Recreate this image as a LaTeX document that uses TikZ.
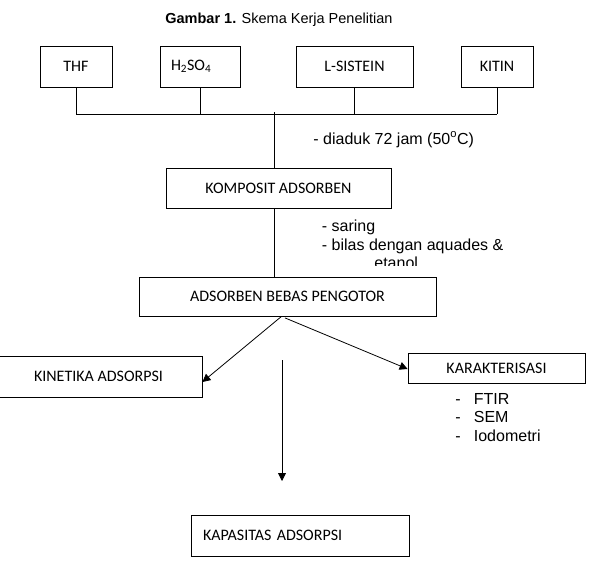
\documentclass[tikz,border=0pt]{standalone}
\usepackage{fontspec}
\setmainfont{Liberation Sans}
\newfontfamily\boxfont{Carlito}
\usetikzlibrary{arrows.meta, calc}
\tikzset{
    my-box/.style={
        draw, rectangle, line width=.8pt, inner sep=0pt,
        font=\boxfont\fontsize{16}{19}\selectfont
    },
    my-note/.style={
        anchor=base west, inner sep=0pt, font=\fontsize{16}{18}\selectfont
    },
    my-arrow/.style={
        -{Triangle[length=8pt, width=8pt]}, line width=.8pt
    },
}

\begin{document}
\begin{tikzpicture}[x=1pt, y=-1pt, line width=.8pt]

        \useasboundingbox (0,0) rectangle (590,587);

        % TITLE
        \node[anchor=base west, inner sep=0pt, font=\fontsize{14.5}{17}\selectfont] (TITLE) at (165,23.3)
            {\bfseries Gambar 1.\mdseries{} Skema Kerja Penelitian};

        % INPUTS
        \node[my-box, minimum width=72pt, minimum height=41pt]  (THF)  at (76,66.5)    {THF};
        \node[my-box, minimum height=41pt, text width=58pt, inner xsep=11pt, align=left]
                                                                (H2SO4) at (200,66.5)  {H\textsubscript{2}SO\textsubscript{4}};
        \node[my-box, minimum width=117pt, minimum height=41pt] (LSIS) at (354.5,66.5) {L-SISTEIN};
        \node[my-box, minimum width=72pt, minimum height=41pt]  (KITIN) at (497,66.5)  {KITIN};

        % BUS, WIRES BUS CONNECTOR POINTS
        \coordinate (BUSL)  at (76,114);
        \coordinate (BUSR)  at (497,114);
        \coordinate (JOIN)  at (274,114);
        \coordinate (JOINT) at (274,112);
        \draw (THF.south)   -- (THF.south |- BUSL);
        \draw (H2SO4.south) -- (H2SO4.south |- BUSL);
        \draw (LSIS.south)  -- (LSIS.south |- BUSL);
        \draw (KITIN.south) -- (KITIN.south |- BUSL);
        \draw (BUSL) -- (BUSR);

        % STEP 1
        \node[my-note] (DIADUK) at (313,144) {- diaduk 72 jam (50\textsuperscript{o}C)};
        \node[my-box, minimum width=225pt, minimum height=40pt] (KOMP) at (278.5,188) {KOMPOSIT ADSORBEN};
        \draw (JOINT) -- (JOIN |- KOMP.north);

        % STEP 2
        \node[my-note] (SARING) at (321.5,231.5) {- saring};
        \node[my-note] (BILAS)  at (321.5,250)   {- bilas dengan aquades \&};
        \begin{scope}
            \clip (300,252) rectangle (520,265);
            \node[my-note] (ETANOL) at (374,268) {etanol};
        \end{scope}
        \node[my-box, minimum width=297pt, minimum height=39pt] (ADS) at (287.5,296.5) {ADSORBEN BEBAS PENGOTOR};
        \draw (JOIN |- KOMP.south) -- (JOIN |- ADS.north);

        % OUTPUTS
        \node[my-box, minimum width=207pt, minimum height=41pt] (KIN) at (98.5,376.5) {KINETIKA ADSORPSI};
        \node[my-box, minimum width=177pt, minimum height=30pt] (KAR) at (496.5,368)  {KARAKTERISASI};
        \node[my-box, minimum height=41pt, text width=194pt, inner xsep=12pt, align=left]
                                                                (KAP) at (300,535.5)  {KAPASITAS ADSORPSI};

        % CHARACTERISATION LIST
        \foreach \y/\txt [count=\i] in {404/FTIR, 422.5/SEM, 441/Iodometri} {
            \node[my-note] (DASH\i) at (455,\y)   {-};
            \node[my-note] (ITEM\i) at (473.5,\y) {\txt};
        }

        % OUTPUT CONNECTIONS
        \coordinate (MIDTOP) at (282,360);
        \coordinate (MIDTIP) at (282,481);
        \draw[my-arrow] ($(ADS.south)+(-6,0)$)     -- ($(KIN.east)+(0,5.5)$);
        \draw[my-arrow] ($(ADS.south)+(-2.5,1.5)$) -- ($(KAR.west)+(0,1)$);
        \draw[my-arrow] (MIDTOP) -- (MIDTIP);

    \end{tikzpicture}
\end{document}
